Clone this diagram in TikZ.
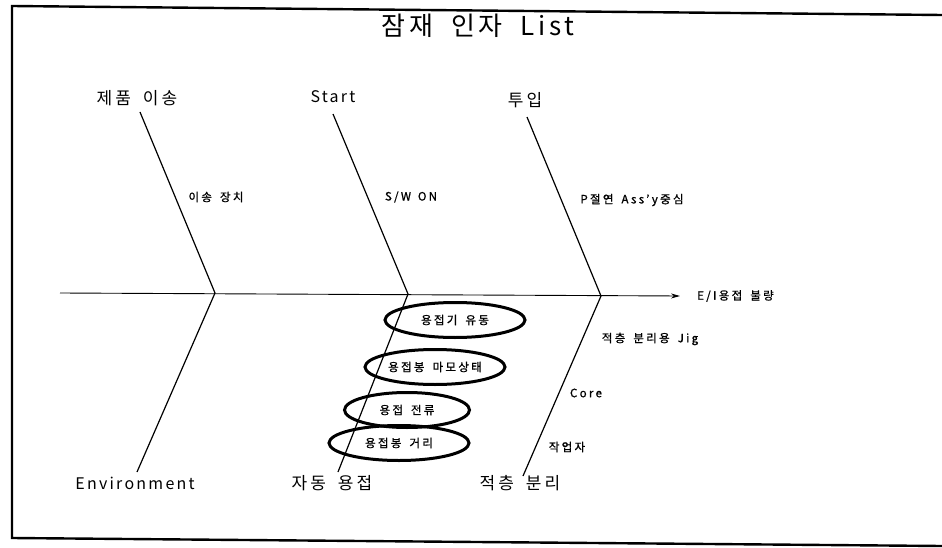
\documentclass[tikz,border=0pt]{standalone}
\usepackage{fontspec}
\setmainfont{Noto Sans CJK KR}
\usetikzlibrary{shapes.geometric,arrows.meta}
\newcommand{\wsp}{\hspace{0.7em}}
\tikzset{
  kbig/.style={font=\fontsize{17}{19}\selectfont\addfontfeature{LetterSpace=18}, inner sep=0pt},
  lbig/.style={font=\fontsize{16}{18}\selectfont\addfontfeature{LetterSpace=14}, inner sep=0pt},
  small/.style={font=\fontsize{11.5}{13}\selectfont\addfontfeature{LetterSpace=20,FakeBold=1}, inner sep=0pt},
  ttl/.style={font=\fontsize{26}{30}\selectfont\addfontfeature{LetterSpace=14}, inner sep=0pt},
  bone/.style={line width=1.2pt},
  spine/.style={line width=0.9pt, -{Stealth[length=9pt,width=5pt]}},
  oval/.style={ellipse, draw, line width=3pt, minimum width=140pt, minimum height=35pt, inner sep=0pt,
    font=\fontsize{11.5}{13}\selectfont\addfontfeature{LetterSpace=20,FakeBold=1}},
  frame/.style={line width=2.4pt}
}
\begin{document}
\begin{tikzpicture}[x=1pt,y=-1pt]
\useasboundingbox (0,0) rectangle (942,548);
% frame
\coordinate (f1) at (12,6);
\coordinate (f2) at (942,15);
\coordinate (f3) at (12,538);
\coordinate (f4) at (942,546);
\draw[frame] (f2) -- (f1) -- (f3) -- (f4);
% title
\node[ttl] (title) at (478,26) {잠재\wsp 인자\wsp List};
% spine
\coordinate (s0) at (60,293);
\coordinate (j1) at (215,293);
\coordinate (j2) at (408,294);
\coordinate (j3) at (601,296);
\node[small, anchor=west] (eff) at (697,296) {E/I용접\wsp 불량};
\draw[spine] (s0) -- ([xshift=-17pt]eff.west);
% top labels
\node[kbig] (l1) at (137,98) {제품\wsp 이송};
\node[lbig] (l2) at (333,97) {Start};
\node[kbig] (l3) at (525,100) {투입};
\coordinate (t1) at (140,112);
\coordinate (t2) at (333,114);
\coordinate (t3) at (527,117);
\draw[bone] (t1) -- (j1);
\draw[bone] (t2) -- (j2);
\draw[bone] (t3) -- (j3);
% bottom labels
\node[lbig] (b1l) at (135,483) {Environment};
\node[kbig] (b2l) at (332,483) {자동\wsp 용접};
\node[kbig] (b3l) at (520,483) {적층\wsp 분리};
\coordinate (b1) at (137,472);
\coordinate (b2) at (338,472);
\coordinate (b3) at (523,476);
\draw[bone] (j1) -- (b1);
\draw[bone] (j2) -- (b2);
\draw[bone] (j3) -- (b3);
% small cause labels
\node[small] (c1) at (216,197) {이송\wsp 장치};
\node[small] (c2) at (411,197) {S/W\hspace{0.6em}ON};
\node[small] (c3) at (632,200) {P절연\wsp Ass'y중심};
\node[small] (c4) at (650,339) {적층\wsp 분리용\wsp Jig};
\node[small] (c5) at (586,393) {Core};
\node[small] (c6) at (567,447) {작업자};
% ellipses
\node[oval] (e1) at (455,320) {용접기\wsp 유동};
\node[oval] (e2) at (435,367) {용접봉\wsp 마모상태};
\node[oval, minimum width=125pt] (e3) at (407,410) {용접\wsp 전류};
\node[oval] (e4) at (399,443) {용접봉\wsp 거리};
\end{tikzpicture}
\end{document}
